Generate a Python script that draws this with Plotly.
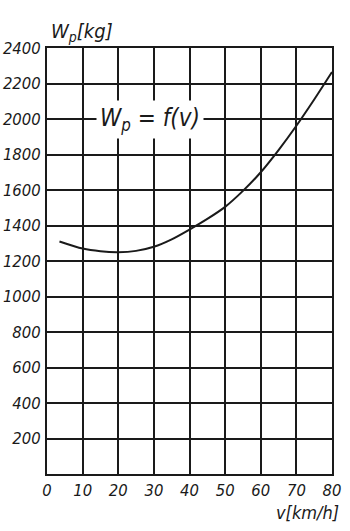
import plotly.graph_objects as go

v = [3.5, 10, 15, 20, 25, 30, 35, 40, 45, 50, 55, 60, 65, 70, 75, 80]
wp = [1310, 1270, 1255, 1250, 1257, 1280, 1322, 1377, 1437, 1505, 1595, 1700, 1825, 1962, 2110, 2265]

x_ticks = [0, 10, 20, 30, 40, 50, 60, 70, 80]
y_ticks = [200, 400, 600, 800, 1000, 1200, 1400, 1600, 1800, 2000, 2200, 2400]

FONT = "DejaVu Sans Condensed, DejaVu Sans, sans-serif"
INK = "#1a1a1a"

fig = go.Figure()
fig.add_trace(go.Scatter(x=v, y=wp, mode="lines",
                         line=dict(color=INK, width=2, shape="spline", smoothing=0.8),
                         hoverinfo="skip", showlegend=False))

axis_common = dict(showgrid=True, gridcolor=INK, gridwidth=2,
                   showline=True, linecolor=INK, linewidth=2, mirror=True,
                   zeroline=False, ticks="", automargin=False,
                   tickfont=dict(family=FONT, size=16.5, color=INK, style="italic"))

fig.update_xaxes(range=[0, 80], tickvals=x_ticks, ticktext=[str(t) for t in x_ticks],
                 ticklabelstandoff=0, **axis_common)
fig.update_yaxes(range=[0, 2400], tickvals=y_ticks, ticktext=[str(t) for t in y_ticks],
                 ticklabelstandoff=1, **axis_common)

fig.add_annotation(x=29, y=2000, xref="x", yref="y",
                   text="W<sub>p</sub> = f(v)", showarrow=False,
                   font=dict(family=FONT, size=24, color=INK, style="italic"),
                   bgcolor="white", borderpad=3)
fig.add_annotation(x=0.5, y=2400, xref="x", yref="y", xanchor="left", yanchor="bottom",
                   yshift=1, text="W<sub>p</sub>[kg]", showarrow=False,
                   font=dict(family=FONT, size=20, color=INK, style="italic"))
fig.add_annotation(x=80, y=0, xref="x", yref="y", xanchor="right", yanchor="top",
                   yshift=-26, xshift=9, text="v[km/h]", showarrow=False,
                   font=dict(family=FONT, size=18, color=INK, style="italic"))

fig.update_layout(width=350, height=531,
                  margin=dict(l=47, r=18, t=48, b=57),
                  paper_bgcolor="white", plot_bgcolor="white")

fig.write_html("out.html")
